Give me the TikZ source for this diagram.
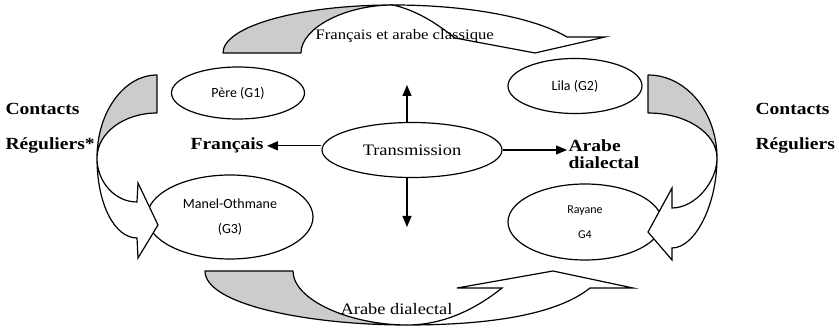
\documentclass[tikz,border=0pt]{standalone}
\usepackage{fontspec}
\setmainfont{Liberation Serif}
\newfontfamily\calibri{Carlito}
\usetikzlibrary{positioning, arrows.meta, shapes.geometric}
\newcommand{\wide}[1]{\scalebox{1.15}[1]{#1}}

\begin{document}
\begin{tikzpicture}[x=1pt, y=-1pt, line width=1.2pt,
  oval/.style={ellipse, draw, inner sep=0pt, align=center, font=\calibri\fontsize{14}{25}\selectfont},
  arr/.style={-{Triangle[length=11pt,width=9pt]}},
  band/.style={draw, fill=gray!40, line join=round},
  head/.style={draw, fill=white, line join=miter},
  txt/.style={inner sep=0pt, anchor=base west, font=\bfseries\fontsize{17}{17}\selectfont}]
\useasboundingbox (0,0) rectangle (839,328);

% generations
\node[oval, minimum width=133pt, minimum height=52pt] (g1) at (238,93) {Père (G1)};
\node[oval, minimum width=134pt, minimum height=55pt] (g2) at (575,86) {Lila (G2)};
\node[oval, minimum width=166pt, minimum height=84pt] (g3) at (230,217) {Manel-Othmane\\(G3)};
\node[oval, minimum width=154pt, minimum height=76pt, font=\calibri\fontsize{12}{25}\selectfont] (g4) at (585,222) {Rayane\\G4};

% curved arrows
\draw[band] (223,53) .. controls (223,26) and (300,5) .. (393,5) .. controls (345,5) and (301,28) .. (301,53) -- cycle;
\draw[head] (393,5) .. controls (470,5) and (535,18) .. (567,37) -- (605,37) -- (535,53) -- (455,38) .. controls (435,22) and (415,10) .. (393,5) -- cycle;
\draw[band] (205,271) -- (293,271) .. controls (293,300) and (350,325) .. (407,325) .. controls (310,325) and (205,305) .. (205,271) -- cycle;
\draw[head] (407,325) .. controls (500,325) and (560,312) .. (590,288) -- (633,288) -- (553,271) -- (457,288) -- (502,288) .. controls (472,312) and (440,325) .. (407,325) -- cycle;
\draw[band] (157,75) .. controls (124,75) and (97,112) .. (97,158) .. controls (97,133) and (124,113) .. (157,113) -- cycle;
\draw[head] (97,158) .. controls (97,205) and (115,238) .. (137,238) -- (138,258) -- (158,225) -- (138,183) -- (137,202) .. controls (115,202) and (97,182) .. (97,158) -- cycle;
\draw[band] (648,75) .. controls (686,75) and (717,112) .. (717,158) .. controls (717,133) and (686,113) .. (648,113) -- cycle;
\draw[head] (717,158) .. controls (717,205) and (695,248) .. (672,248) -- (672,260) -- (648,232) -- (672,188) -- (672,208) .. controls (695,208) and (717,182) .. (717,158) -- cycle;

% transmission
\node[ellipse, draw, inner sep=0pt, minimum width=180pt, minimum height=55pt, font=\fontsize{16}{18}\selectfont] (trans) at (412,150) {\wide{Transmission}};
\node[txt, inner sep=3pt] (fr) at (187,150) {\wide{Français}};
\node[txt, anchor=north west, inner sep=1pt, align=left] (ar) at (567,138) {\wide{Arabe}\\\wide{dialectal}};
\coordinate (up) at (407,85);
\coordinate (dn) at (407,227);
\draw[arr] (trans.west |- fr.east) -- (fr.east);
\draw[arr] (trans.east) -- (trans.east -| ar.west);
\draw[arr] (up |- trans.north) -- (up);
\draw[arr] (dn |- trans.south) -- (dn);

% labels
\node[txt, font=\fontsize{14.5}{17}\selectfont] (top) at (315,40) {\wide{Français et arabe classique}};
\node[txt, font=\fontsize{16}{17}\selectfont] (bot) at (340,315) {\wide{Arabe dialectal}};
\node[txt] (cl1) at (5,115) {\wide{Contacts}};
\node[txt] (cl2) at (5,150) {\wide{Réguliers*}};
\node[txt] (cr1) at (755,115) {\wide{Contacts}};
\node[txt] (cr2) at (755,150) {\wide{Réguliers}};
\end{tikzpicture}
\end{document}
